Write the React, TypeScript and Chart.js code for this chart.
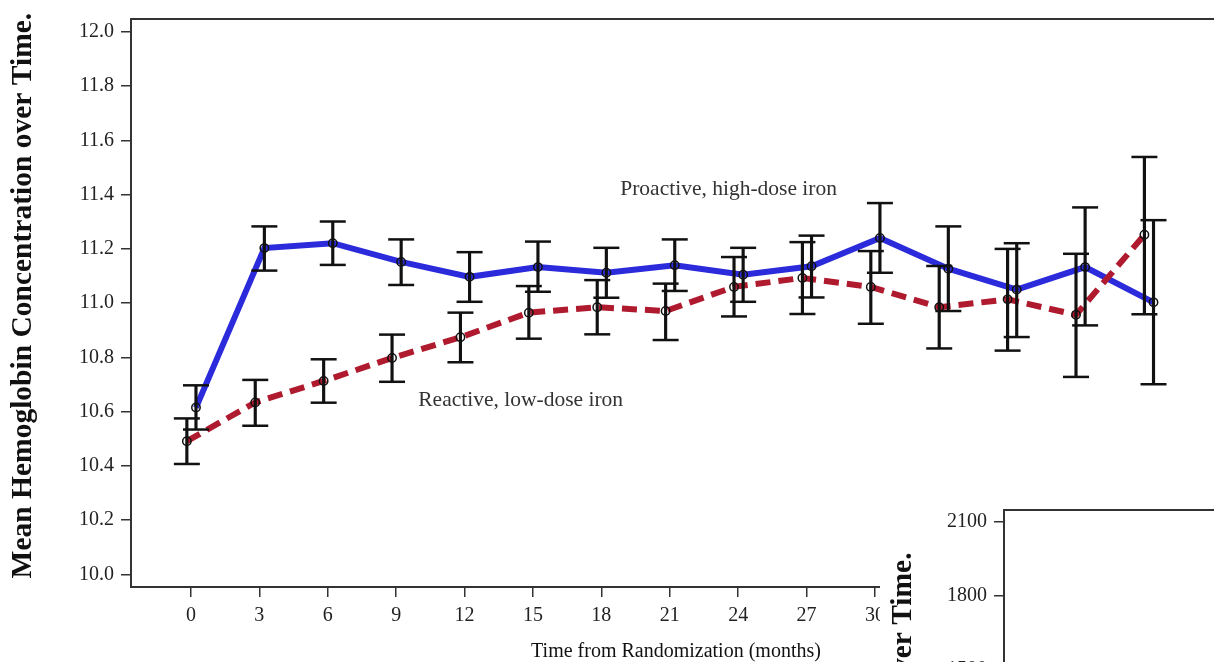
import React, { useEffect, useRef } from "react";
import { Chart, registerables } from "chart.js";

Chart.register(...registerables);

// ---- data ----
const months = [0, 3, 6, 9, 12, 15, 18, 21, 24, 27, 30, 33, 36, 39, 42];

const proactiveMean = [10.615, 11.203, 11.221, 11.152, 11.097, 11.133, 11.112, 11.140, 11.105, 11.136, 11.240, 11.127, 11.050, 11.133, 11.003];
const proactiveHigh = [10.697, 11.283, 11.301, 11.235, 11.188, 11.227, 11.204, 11.235, 11.204, 11.249, 11.369, 11.283, 11.221, 11.353, 11.306];
const proactiveLow = [10.534, 11.120, 11.141, 11.067, 11.005, 11.042, 11.020, 11.045, 11.005, 11.021, 11.112, 10.971, 10.875, 10.918, 10.701];

const reactiveMean = [10.491, 10.634, 10.713, 10.798, 10.874, 10.965, 10.985, 10.971, 11.060, 11.093, 11.060, 10.985, 11.014, 10.957, 11.252];
const reactiveHigh = [10.575, 10.717, 10.793, 10.884, 10.965, 11.063, 11.085, 11.072, 11.170, 11.225, 11.192, 11.137, 11.200, 11.182, 11.539];
const reactiveLow = [10.407, 10.548, 10.633, 10.710, 10.782, 10.869, 10.885, 10.864, 10.951, 10.960, 10.924, 10.833, 10.825, 10.728, 10.959];

const xTickValues = [0, 3, 6, 9, 12, 15, 18, 21, 24, 27, 30];
const yTickValues = [10.0, 10.2, 10.4, 10.6, 10.8, 11.0, 11.2, 11.4, 11.6, 11.8, 12.0];
const panel2TickValues = [0, 300, 600, 900, 1200, 1500, 1800, 2100];

const proactiveName = "Proactive, high-dose iron";
const reactiveName = "Reactive, low-dose iron";
const yTitle = "Mean Hemoglobin Concentration over Time.";
const xTitle = "Time from Randomization (months)";
const panel2Title = "Mean Ferritin Concentration over Time.";

// dodge of the two groups along x (months)
const proactiveDodge = 0.22;
const reactiveDodge = -0.18;

// label anchors in data units (month, g/dL)
const proactiveLabelAt = { x: 18.83, y: 11.42 };
const reactiveLabelAt = { x: 9.97, y: 10.64 };

const SERIF = '"Liberation Serif", "Times New Roman", serif';
const BLUE = "#2b2bdb";
const RED = "#b01a2e";
const INK = "#111";
const AXIS = "#333";

const framePlugin = {
  id: "frameAndLabels",
  afterDraw(chart: any, _args: any, opts: any) {
    const { ctx, chartArea: a, scales } = chart;
    ctx.save();
    ctx.strokeStyle = AXIS;
    ctx.lineWidth = 2;
    ctx.beginPath();
    ctx.moveTo(a.left - 1, a.top);
    ctx.lineTo(a.right, a.top);
    ctx.stroke();
    if (opts && opts.labels) {
      ctx.font = `21.5px ${SERIF}`;
      ctx.fillStyle = "#333";
      ctx.textAlign = "left";
      ctx.textBaseline = "middle";
      for (const l of opts.labels) {
        ctx.fillText(l.text, scales.x.getPixelForValue(l.x), scales.y.getPixelForValue(l.y));
      }
    }
    ctx.restore();
  },
};

export default function App() {
  const mainRef = useRef<HTMLCanvasElement>(null);
  const sideRef = useRef<HTMLCanvasElement>(null);

  useEffect(() => {
    const pts = (offset: number, ys: number[]) => months.map((m, i) => ({ x: m + offset, y: ys[i] }));
    const bars = (offset: number, lo: number[], hi: number[]) =>
      months.map((m, i) => ({ x: m + offset, y: [lo[i], hi[i]] }));
    const caps = (offset: number, lo: number[], hi: number[]) => [...pts(offset, lo), ...pts(offset, hi)];

    const errBar = (offset: number, lo: number[], hi: number[]) => ({
      type: "bar" as const,
      data: bars(offset, lo, hi) as any,
      backgroundColor: INK,
      borderWidth: 0,
      barThickness: 2.5,
      grouped: false,
      order: 1,
    });
    const errCap = (offset: number, lo: number[], hi: number[]) => ({
      type: "scatter" as const,
      data: caps(offset, lo, hi) as any,
      pointStyle: "line" as const,
      pointRadius: 13,
      pointBorderWidth: 2.5,
      pointBorderColor: INK,
      borderColor: INK,
      showLine: false,
      order: 1,
    });

    const main = new Chart(mainRef.current!, {
      type: "line",
      data: {
        datasets: [
          errBar(proactiveDodge, proactiveLow, proactiveHigh),
          errCap(proactiveDodge, proactiveLow, proactiveHigh),
          errBar(reactiveDodge, reactiveLow, reactiveHigh),
          errCap(reactiveDodge, reactiveLow, reactiveHigh),
          {
            type: "line",
            label: reactiveName,
            data: pts(reactiveDodge, reactiveMean) as any,
            borderColor: RED,
            borderWidth: 6,
            borderDash: [15, 8],
            borderCapStyle: "butt",
            pointRadius: 4.2,
            pointBorderWidth: 1.5,
            pointBorderColor: INK,
            pointBackgroundColor: "rgba(0,0,0,0)",
            tension: 0,
            order: 2,
          },
          {
            type: "line",
            label: proactiveName,
            data: pts(proactiveDodge, proactiveMean) as any,
            borderColor: BLUE,
            borderWidth: 6,
            pointRadius: 4.2,
            pointBorderWidth: 1.5,
            pointBorderColor: INK,
            pointBackgroundColor: "rgba(0,0,0,0)",
            tension: 0,
            order: 3,
          },
        ],
      },
      options: {
        responsive: false,
        animation: false,
        devicePixelRatio: 1,
        layout: { padding: { left: 0, top: 16, right: 19, bottom: 0 } },
        plugins: {
          legend: { display: false },
          tooltip: { enabled: false },
          frameAndLabels: {
            labels: [
              { text: proactiveName, x: proactiveLabelAt.x, y: proactiveLabelAt.y },
              { text: reactiveName, x: reactiveLabelAt.x, y: reactiveLabelAt.y },
            ],
          },
        } as any,
        scales: {
          x: {
            type: "linear",
            min: -2.63,
            max: 45.18,
            offset: false,
            afterBuildTicks: (s: any) => {
              s.ticks = xTickValues.map((v) => ({ value: v }));
            },
            afterFit: (s: any) => {
              s.height = 93;
            },
            grid: {
              display: true,
              offset: false,
              drawOnChartArea: false,
              drawTicks: true,
              tickLength: 10,
              color: AXIS,
              lineWidth: 1.5,
            },
            border: { display: true, color: AXIS, width: 2 },
            ticks: { font: { family: SERIF, size: 20 }, color: "#222", padding: 7, maxRotation: 0, autoSkip: false },
            title: {
              display: true,
              text: xTitle,
              font: { family: SERIF, size: 20 },
              color: INK,
              padding: { top: 0, bottom: 16.3 },
            },
          },
          y: {
            type: "linear",
            min: 9.9534,
            max: 12.0477,
            afterBuildTicks: (s: any) => {
              s.ticks = yTickValues.map((v) => ({ value: v }));
            },
            afterFit: (s: any) => {
              s.width = 131;
            },
            grid: { display: true, drawOnChartArea: false, drawTicks: true, tickLength: 10, color: AXIS, lineWidth: 1.5 },
            border: { display: true, color: AXIS, width: 2 },
            ticks: {
              font: { family: SERIF, size: 20 },
              color: "#222",
              padding: 7,
              callback: (v: any) => Number(v).toFixed(1),
            },
            title: {
              display: true,
              text: "\u00A0\u00A0" + yTitle,
              font: { family: SERIF, size: 29.5, weight: "bold" },
              color: INK,
              padding: { top: 5.3, bottom: 0 },
            },
          },
        },
      },
      plugins: [framePlugin],
    });

    const side = new Chart(sideRef.current!, {
      type: "line",
      data: { datasets: [] },
      options: {
        responsive: false,
        animation: false,
        devicePixelRatio: 1,
        layout: { padding: { left: 0, top: 110, right: 0, bottom: 26.3 } },
        plugins: { legend: { display: false }, tooltip: { enabled: false } } as any,
        scales: {
          x: { type: "linear", display: false, min: 0, max: 45 },
          y: {
            type: "linear",
            min: -300,
            max: 2147.4,
            afterBuildTicks: (s: any) => {
              s.ticks = panel2TickValues.map((v) => ({ value: v }));
            },
            afterFit: (s: any) => {
              s.width = 124;
            },
            grid: { display: true, drawOnChartArea: false, drawTicks: true, tickLength: 10, color: AXIS, lineWidth: 1.5 },
            border: { display: true, color: AXIS, width: 2 },
            ticks: {
              font: { family: SERIF, size: 20 },
              color: "#222",
              padding: 7,
              callback: (v: any) => String(Math.round(Number(v))),
            },
            title: {
              display: true,
              text: "\u00A0" + panel2Title,
              font: { family: SERIF, size: 29.5, weight: "bold" },
              color: INK,
              padding: { top: 5.3, bottom: 0 },
            },
          },
        },
      },
      plugins: [framePlugin],
    });

    return () => {
      main.destroy();
      side.destroy();
    };
  }, []);

  return (
    <div
      style={{
        position: "fixed",
        left: 0,
        top: 0,
        width: 1214,
        height: 662,
        overflow: "hidden",
        background: "#fff",
      }}
    >
      <canvas ref={mainRef} width={1240} height={680} style={{ position: "absolute", left: 0, top: 0 }} />
      <canvas
        ref={sideRef}
        width={400}
        height={740}
        style={{ position: "absolute", left: 880, top: 400, background: "#fff" }}
      />
    </div>
  );
}
